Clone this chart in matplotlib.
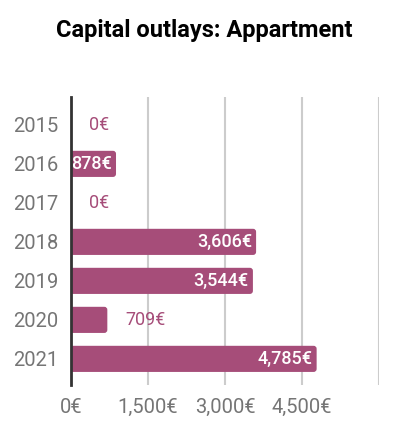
import matplotlib
matplotlib.use("Agg")
import matplotlib.pyplot as plt
from matplotlib.patches import FancyBboxPatch

plt.rcParams['font.family'] = ['Roboto', 'DejaVu Sans']

years = ["2015", "2016", "2017", "2018", "2019", "2020", "2021"]
outlays = [0, 878, 0, 3606, 3544, 709, 4785]
xticks = [0, 1500, 3000, 4500, 6000]
xtick_labels = ["0€", "1,500€", "3,000€", "4,500€", ""]

bar_color = "#a64d79"
label_gray = "#757575"

fig = plt.figure(figsize=(3.94, 4.38), dpi=100)
ax = fig.add_axes([0.180, 0.121, 0.782, 0.658])

ax.set_xlim(0, 6000)
ax.set_ylim(6.67, -0.72)

pos = list(range(len(years)))
bars = ax.barh(pos, outlays, height=0.67, color=bar_color, zorder=3)

# swap plain bars for slightly rounded ones (same geometry)
xpp = 6000 / (0.782 * 394)      # data units per pixel, x
ypp = 7.39 / (0.658 * 438)      # data units per pixel, y
for b in bars:
    if b.get_width() <= 0:
        b.set_visible(False)
        continue
    x0, y0, w, h = b.get_x(), b.get_y(), b.get_width(), b.get_height()
    b.set_visible(False)
    rb = FancyBboxPatch((x0 - 4 * xpp, y0), w + 4 * xpp, h,
                        boxstyle=f"round,pad=0,rounding_size={3 * xpp}",
                        mutation_aspect=ypp / xpp,
                        fc=bar_color, ec="none", zorder=3, clip_on=True)
    ax.add_patch(rb)

# value labels: inside (white) for long bars, outside (bar colour) otherwise
for p, v in zip(pos, outlays):
    txt = f"{v:,}€"
    if v >= 800:
        ax.annotate(txt, (v, p), xytext=(-3, 0), textcoords="offset points",
                    ha="right", va="center", color="white", fontsize=13,
                    fontweight="medium", zorder=4)
    else:
        ax.annotate(txt, (v, p), xytext=(13, 0), textcoords="offset points",
                    ha="left", va="center", color=bar_color, fontsize=13,
                    zorder=4)

ax.set_yticks(pos)
ax.set_yticklabels(years)
ax.set_xticks(xticks)
ax.set_xticklabels(xtick_labels)
ax.tick_params(length=0, labelsize=14.5, labelcolor=label_gray)
ax.tick_params(axis="y", pad=9)
ax.tick_params(axis="x", pad=9)

ax.grid(axis="x", color="#cccccc", linewidth=1.5, zorder=0)
for s in ["top", "right", "bottom"]:
    ax.spines[s].set_visible(False)
ax.spines["left"].set_color("#333333")
ax.spines["left"].set_linewidth(2)
ax.spines["left"].set_zorder(5)

fig.text(0.518, 0.931, "Capital outlays: Appartment", ha="center", va="center",
         fontsize=17, fontweight="bold", color="black")

fig.savefig("out.png", dpi=100)
